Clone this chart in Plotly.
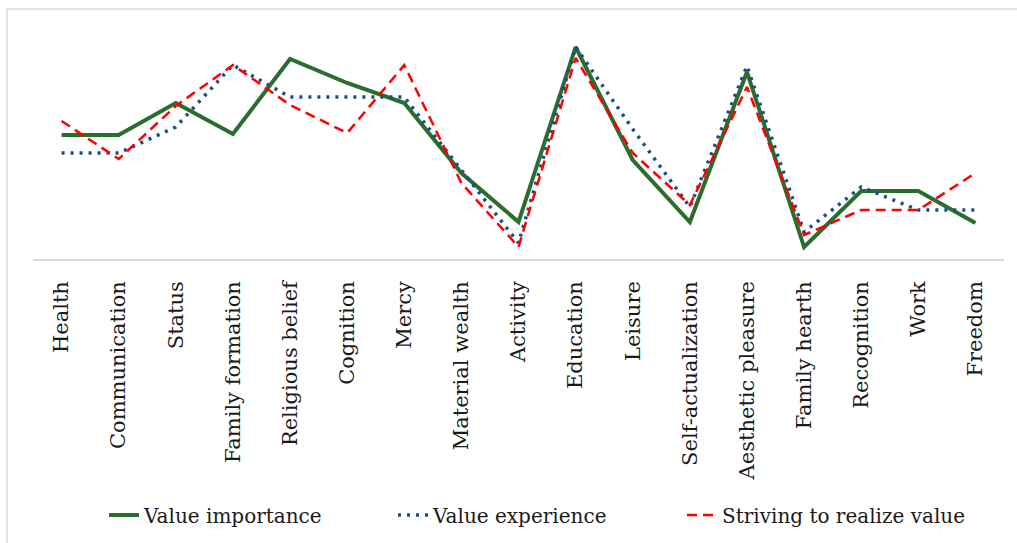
import plotly.graph_objects as go

categories = ["Health", "Communication", "Status", "Family formation", "Religious belief",
              "Cognition", "Mercy", "Material wealth", "Activity", "Education", "Leisure",
              "Self-actualization", "Aesthetic pleasure", "Family hearth", "Recognition",
              "Work", "Freedom"]

value_importance = [124, 124, 156, 125, 200, 176, 156, 86, 37, 212, 99, 37, 187, 12, 68, 68, 36]
value_experience = [106, 106, 132, 194, 162, 162, 162, 89, 16, 212, 130, 52, 193, 27, 72, 49, 49]
striving = [138, 100, 153, 194, 154, 126, 194, 76, 12, 201, 106, 54, 172, 24, 49, 49, 86]

series_names = ["Value importance", "Value experience", "Striving to realize value"]

FONT = "DejaVu Serif"
FS = 21
L, R, T, B = 33, 13, 29, 284
W, H = 1017, 543
PW, PH = W - L - R, H - T - B

fig = go.Figure()
fig.add_trace(go.Scatter(x=categories, y=value_importance, name=series_names[0], mode="lines",
                         line=dict(color="#2a6d2f", width=4)))
fig.add_trace(go.Scatter(x=categories, y=value_experience, name=series_names[1], mode="lines",
                         line=dict(color="#1a4f85", width=3.5, dash="3px,6px")))
fig.add_trace(go.Scatter(x=categories, y=striving, name=series_names[2], mode="lines",
                         line=dict(color="#ff0000", width=2.5, dash="10px,6px")))

def px_x(p):
    return (p - L) / PW

def px_y(p):
    return (T + PH - p) / PH

border = "#d9d9d9"
shapes = [
    dict(type="line", xref="paper", yref="paper", x0=px_x(7), x1=px_x(1017), y0=px_y(9), y1=px_y(9),
         line=dict(color=border, width=1.5)),
    dict(type="line", xref="paper", yref="paper", x0=px_x(7), x1=px_x(7), y0=px_y(9), y1=px_y(543),
         line=dict(color=border, width=1.5)),
]

fig.update_layout(
    width=W, height=H,
    margin=dict(l=L, r=R, t=T, b=B, autoexpand=False),
    paper_bgcolor="white", plot_bgcolor="white",
    font=dict(family=FONT, size=FS, color="#1a1a1a"),
    showlegend=True,
    legend=dict(orientation="h", x=px_x(104), xanchor="left", y=px_y(515), yanchor="middle",
                font=dict(family=FONT, size=20, color="#1a1a1a"), entrywidth=244,
                entrywidthmode="pixels", bgcolor="rgba(0,0,0,0)"),
    shapes=shapes,
    xaxis=dict(type="category", range=[-0.5, len(categories) - 0.5], showgrid=False,
               showline=True, linecolor=border, linewidth=1.5, ticks="",
               tickangle=-90, tickfont=dict(family=FONT, size=FS, color="#1a1a1a"),
               ticklabelstandoff=12, zeroline=False, fixedrange=True),
    yaxis=dict(range=[0, PH], showgrid=False, showline=False, showticklabels=False,
               zeroline=False, ticks="", fixedrange=True),
)

fig.write_html("out.html", config={"displayModeBar": False},
               post_script="document.body.style.margin='0';")
